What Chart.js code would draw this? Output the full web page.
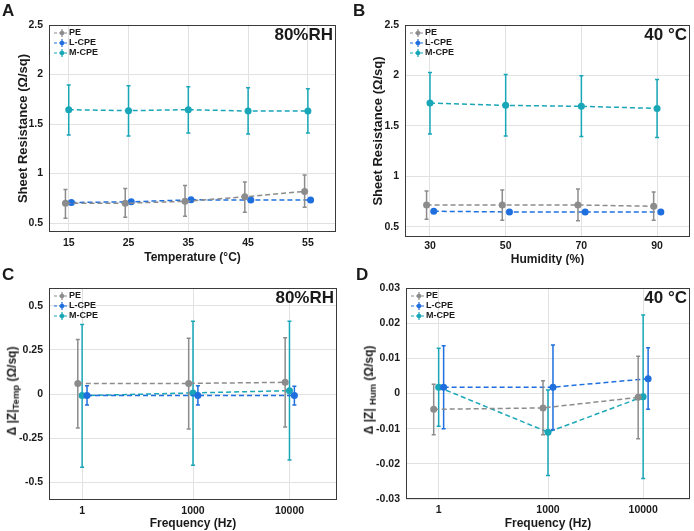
<!DOCTYPE html>
<html>
<head>
<meta charset="utf-8">
<script src="https://cdn.jsdelivr.net/npm/chart.js@4.4.1/dist/chart.umd.min.js"></script>
<style>
  body { margin: 0; background: #fff; }
  #fig { position: relative; width: 694px; height: 531px; font-family: 'Liberation Sans', Arial, sans-serif; color: #1a1a1a; }
  .panel { position: absolute; }
  .panel canvas { display: block; }
  .letter { position: absolute; font-weight: bold; font-size: 17px; }
  .ytitle { position: absolute; font-weight: bold; font-size: 12px; white-space: nowrap;
            transform: translate(-50%, -50%) rotate(-90deg); }
  .ytitle sub { font-size: 9.5px; }
</style>
</head>
<body>
<div id="fig">
  <div class="panel" style="left:0;top:0"><canvas id="chartA" width="347" height="265"></canvas></div>
  <div class="panel" style="left:347px;top:0"><canvas id="chartB" width="347" height="265"></canvas></div>
  <div class="panel" style="left:0;top:265px"><canvas id="chartC" width="347" height="266"></canvas></div>
  <div class="panel" style="left:347px;top:265px"><canvas id="chartD" width="347" height="266"></canvas></div>
  <div class="letter" style="left:2px;top:1px">A</div>
  <div class="letter" style="left:353px;top:1px">B</div>
  <div class="letter" style="left:2px;top:265px">C</div>
  <div class="letter" style="left:356px;top:265px">D</div>
  <div class="ytitle" style="left:13px;top:391px">Δ |Z|<sub>Temp</sub> (Ω/sq)</div>
  <div class="ytitle" style="left:370px;top:390px">Δ |Z| <sub>Hum</sub> (Ω/sq)</div>
</div>
<script>
// series names
const seriesNames = ['PE', 'L-CPE', 'M-CPE'];

// A: sheet resistance vs temperature (80%RH)
const tempC = [15, 25, 35, 45, 55];
const peTemp = [0.70, 0.70, 0.72, 0.765, 0.82];
const peTempLo = [0.55, 0.56, 0.57, 0.61, 0.66];
const peTempHi = [0.84, 0.85, 0.88, 0.915, 0.985];
const lcpeTemp = [0.708, 0.715, 0.735, 0.732, 0.732];
const lcpeTempLo = [0.698, 0.705, 0.725, 0.722, 0.722];
const lcpeTempHi = [0.718, 0.725, 0.745, 0.742, 0.742];
const mcpeTemp = [1.645, 1.635, 1.645, 1.631, 1.631];
const mcpeTempLo = [1.39, 1.38, 1.41, 1.40, 1.41];
const mcpeTempHi = [1.894, 1.887, 1.877, 1.867, 1.857];

// B: sheet resistance vs humidity (40 °C)
const humidity = [30, 50, 70, 90];
const peHum = [0.717, 0.717, 0.717, 0.704];
const peHumLo = [0.576, 0.566, 0.56, 0.566];
const peHumHi = [0.855, 0.865, 0.875, 0.845];
const lcpeHum = [0.655, 0.648, 0.648, 0.648];
const lcpeHumLo = [0.635, 0.628, 0.628, 0.64];
const lcpeHumHi = [0.675, 0.668, 0.668, 0.656];
const mcpeHum = [1.727, 1.704, 1.694, 1.674];
const mcpeHumLo = [1.42, 1.40, 1.395, 1.385];
const mcpeHumHi = [2.03, 2.01, 1.997, 1.96];

// C, D: frequency categories (placed on a 0-10 axis as in the source figure)
const freqLabels = ['1', '1000', '10000'];
const freqPos = [1.15, 5.0, 8.35];

// C: Δ|Z| temperature
const peZTemp = [0.06, 0.06, 0.066];
const peZTempLo = [-0.193, -0.198, -0.187];
const peZTempHi = [0.309, 0.315, 0.318];
const lcpeZTemp = [-0.009, -0.009, -0.009];
const lcpeZTempLo = [-0.062, -0.062, -0.062];
const lcpeZTempHi = [0.047, 0.047, 0.044];
const mcpeZTemp = [-0.009, 0.006, 0.019];
const mcpeZTempLo = [-0.414, -0.403, -0.373];
const mcpeZTempHi = [0.393, 0.412, 0.412];

// D: Δ|Z| humidity
const peZHum = [-0.0045, -0.0041, -0.0011];
const peZHumLo = [-0.0117, -0.0117, -0.0129];
const peZHumHi = [0.0026, 0.0036, 0.0106];
const lcpeZHum = [0.0018, 0.0018, 0.0042];
const lcpeZHumLo = [-0.010, -0.0103, -0.0045];
const lcpeZHumHi = [0.0136, 0.0138, 0.013];
const mcpeZHum = [0.0018, -0.011, -0.0009];
const mcpeZHumLo = [-0.0093, -0.0233, -0.0242];
const mcpeZHumHi = [0.0129, 0.001, 0.0223];

const colors = ['#8c8c8c', '#1f6fde', '#19a7b8'];

Chart.defaults.font.family = "'Liberation Sans', Arial, sans-serif";
Chart.defaults.font.weight = 'bold';
Chart.defaults.color = '#1a1a1a';

// draws vertical error bars from errLow / errHigh on each dataset
const errorBars = {
  id: 'errorBars',
  afterDatasetDraw(chart, args) {
    const ds = chart.data.datasets[args.index];
    if (!ds.errLow) return;
    const ctx = chart.ctx, ys = chart.scales.y;
    ctx.save();
    ctx.strokeStyle = ds.borderColor;
    ctx.lineWidth = 1.5;
    ctx.setLineDash([]);
    args.meta.data.forEach((pt, i) => {
      const y1 = ys.getPixelForValue(ds.errLow[i]);
      const y2 = ys.getPixelForValue(ds.errHigh[i]);
      ctx.beginPath();
      ctx.moveTo(pt.x, y1); ctx.lineTo(pt.x, y2);
      ctx.moveTo(pt.x - 2, y1); ctx.lineTo(pt.x + 2, y1);
      ctx.moveTo(pt.x - 2, y2); ctx.lineTo(pt.x + 2, y2);
      ctx.stroke();
    });
    ctx.restore();
  }
};

// box around plot, legend in upper-left, condition label in upper-right
const panelDecor = {
  id: 'panelDecor',
  beforeDatasetsDraw(chart) {
    const a = chart.chartArea, ctx = chart.ctx;
    ctx.save();
    ctx.strokeStyle = '#3a3a3a';
    ctx.lineWidth = 1;
    ctx.strokeRect(a.left + 0.5, a.top + 0.5, a.right - a.left - 1, a.bottom - a.top - 1);
    ctx.restore();
  },
  afterDraw(chart, args, opts) {
    const a = chart.chartArea, ctx = chart.ctx;
    ctx.save();
    ctx.font = "bold 9px 'Liberation Sans', Arial, sans-serif";
    ctx.textBaseline = 'middle';
    chart.data.datasets.forEach((ds, i) => {
      const y = a.top + 8 + i * 10, x0 = a.left + 5;
      ctx.strokeStyle = ds.borderColor;
      ctx.fillStyle = ds.borderColor;
      ctx.lineWidth = 1.2;
      ctx.setLineDash([3, 2]);
      ctx.beginPath(); ctx.moveTo(x0, y); ctx.lineTo(x0 + 13, y); ctx.stroke();
      ctx.setLineDash([]);
      ctx.beginPath(); ctx.moveTo(x0 + 8, y - 4); ctx.lineTo(x0 + 8, y + 4); ctx.stroke();
      ctx.beginPath(); ctx.arc(x0 + 8, y, 2.3, 0, Math.PI * 2); ctx.fill();
      ctx.fillStyle = '#1a1a1a';
      ctx.fillText(ds.label, x0 + 15, y);
    });
    ctx.font = "bold 17px 'Liberation Sans', Arial, sans-serif";
    ctx.textAlign = 'right';
    ctx.textBaseline = 'alphabetic';
    ctx.fillText(opts.corner, a.right - 3, a.top + 15);
    ctx.restore();
  }
};

function series(xs, ys, dodge) {
  return xs.map((x, i) => ({ x: x + dodge, y: ys[i] }));
}

function makeDatasets(xs, vals, lows, highs, dodges) {
  return vals.map((v, k) => ({
    label: seriesNames[k],
    data: series(xs, v, dodges[k]),
    errLow: lows[k],
    errHigh: highs[k],
    borderColor: colors[k],
    backgroundColor: colors[k],
    borderWidth: 1.5,
    borderDash: [5, 3],
    pointRadius: 3.5,
    pointBorderWidth: 0,
    showLine: true,
    fill: false
  }));
}

function makePanel(id, p) {
  return new Chart(document.getElementById(id), {
    type: 'scatter',
    data: { datasets: makeDatasets(p.xs, p.vals, p.lows, p.highs, p.dodges) },
    options: {
      responsive: false,
      devicePixelRatio: 1,
      animation: false,
      layout: { padding: { top: p.area.top, right: p.area.right, left: 0, bottom: 0 } },
      plugins: {
        legend: { display: false },
        tooltip: { enabled: false },
        panelDecor: { corner: p.corner }
      },
      scales: {
        x: {
          type: 'linear',
          min: p.xMin, max: p.xMax,
          afterBuildTicks: s => { s.ticks = p.xTicks.map(v => ({ value: v })); },
          afterFit: s => { s.height = p.area.xh; },
          ticks: { padding: p.xPad, font: { size: 10.5 }, callback: p.xLabel, maxRotation: 0, autoSkip: false },
          grid: { color: '#e2e2e2', drawTicks: false },
          border: { display: false },
          title: { display: true, text: p.xTitle, font: { size: 12 }, padding: { top: 0, bottom: p.xTitlePad } }
        },
        y: {
          min: p.yMin, max: p.yMax,
          afterBuildTicks: s => { s.ticks = p.yTicks.map(v => ({ value: v })); },
          afterFit: s => { s.width = p.area.left; },
          ticks: { padding: 6, font: { size: 10.5 }, callback: v => String(v) },
          grid: { color: '#e2e2e2', drawTicks: false },
          border: { display: false },
          title: { display: !!p.yTitle, text: p.yTitle, font: { size: 13 }, padding: { top: p.yTitlePad, bottom: 0 } }
        }
      }
    },
    plugins: [errorBars, panelDecor]
  });
}

makePanel('chartA', {
  xs: tempC,
  vals: [peTemp, lcpeTemp, mcpeTemp],
  lows: [peTempLo, lcpeTempLo, mcpeTempLo],
  highs: [peTempHi, lcpeTempHi, mcpeTempHi],
  dodges: [-0.55, 0.45, 0],
  area: { left: 49, top: 25, right: 11, xh: 33 },
  xMin: 11.7, xMax: 59.7, xTicks: tempC, xLabel: v => String(v), xPad: 5, xTitlePad: 0,
  yMin: 0.41, yMax: 2.5, yTicks: [0.5, 1, 1.5, 2, 2.5],
  xTitle: 'Temperature (°C)', yTitle: 'Sheet Resistance (Ω/sq)', yTitlePad: 16,
  corner: '80%RH'
});

makePanel('chartB', {
  xs: humidity,
  vals: [peHum, lcpeHum, mcpeHum],
  lows: [peHumLo, lcpeHumLo, mcpeHumLo],
  highs: [peHumHi, lcpeHumHi, mcpeHumHi],
  dodges: [-0.9, 1.0, 0],
  area: { left: 58, top: 25, right: 4, xh: 28 },
  xMin: 23.4, xMax: 98.7, xTicks: humidity, xLabel: v => String(v), xPad: 3, xTitlePad: -2,
  yMin: 0.40, yMax: 2.5, yTicks: [0.5, 1, 1.5, 2, 2.5],
  xTitle: 'Humidity (%)', yTitle: 'Sheet Resistance (Ω/sq)', yTitlePad: 24,
  corner: '40 °C'
});

makePanel('chartC', {
  xs: freqPos,
  vals: [peZTemp, lcpeZTemp, mcpeZTemp],
  lows: [peZTempLo, lcpeZTempLo, mcpeZTempLo],
  highs: [peZTempHi, lcpeZTempHi, mcpeZTempHi],
  dodges: [-0.15, 0.17, 0],
  area: { left: 49, top: 23, right: 10, xh: 31 },
  xMin: 0, xMax: 10, xTicks: freqPos, xLabel: v => freqLabels[freqPos.indexOf(v)], xPad: 5, xTitlePad: 0,
  yMin: -0.6, yMax: 0.6, yTicks: [-0.5, -0.25, 0, 0.25, 0.5],
  xTitle: 'Frequency (Hz)', yTitle: '', yTitlePad: 0,
  corner: '80%RH'
});

makePanel('chartD', {
  xs: freqPos,
  vals: [peZHum, lcpeZHum, mcpeZHum],
  lows: [peZHumLo, lcpeZHumLo, mcpeZHumLo],
  highs: [peZHumHi, lcpeZHumHi, mcpeZHumHi],
  dodges: [-0.175, 0.175, 0],
  area: { left: 59, top: 23, right: 2, xh: 32 },
  xMin: 0, xMax: 10, xTicks: freqPos, xLabel: v => freqLabels[freqPos.indexOf(v)], xPad: 5, xTitlePad: 0,
  yMin: -0.03, yMax: 0.03, yTicks: [-0.03, -0.02, -0.01, 0, 0.01, 0.02, 0.03],
  xTitle: 'Frequency (Hz)', yTitle: '', yTitlePad: 0,
  corner: '40 °C'
});
</script>
</body>
</html>
